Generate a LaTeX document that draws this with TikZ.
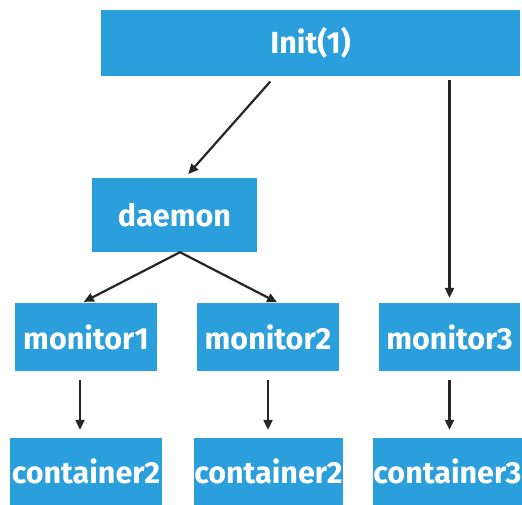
\documentclass[tikz,border=0pt]{standalone}
\usepackage{fontspec}
\setmainfont{Fira Sans}
\usetikzlibrary{arrows.meta}
\definecolor{boxblue}{HTML}{2B9FDB}
\begin{document}
\begin{tikzpicture}[x=1pt,y=-1pt,
  box/.style={fill=boxblue, draw=none, inner sep=0pt, text=white,
    font=\fontsize{30.5}{33}\selectfont\bfseries},
  link/.style={line width=2.2pt, draw=black!85,
    -{Triangle[length=10pt,width=9pt]}}]
  \useasboundingbox[fill=white] (0,0) rectangle (522,505);
  % top level
  \node[box, minimum width=419pt, minimum height=66pt] (init) at (310.5,43) {Init(1)};
  \node[box, minimum width=165pt, minimum height=74pt] (daemon) at (174.5,215) {daemon};
  % monitors
  \node[box, minimum width=142pt, minimum height=68pt] (mon1) at (86,337) {monitor1};
  \node[box, minimum width=142pt, minimum height=68pt] (mon2) at (268,337) {monitor2};
  \node[box, minimum width=141pt, minimum height=68pt] (mon3) at (449.5,337) {monitor3};
  % containers
  \node[box, minimum width=152pt, minimum height=67pt] (con1) at (86,471.5) {container2};
  \node[box, minimum width=149pt, minimum height=67pt] (con2) at (268.5,471.5) {container2};
  \node[box, minimum width=149pt, minimum height=67pt] (con3) at (447.5,471.5) {container3};
  % connectors
  \draw[link, shorten <=7pt, shorten >=5pt]
    ([xshift=-35.5pt]init.south) -- ([xshift=10.5pt]daemon.north);
  \draw[link, shorten <=4pt, shorten >=5pt]
    (init.south -| mon3.north) -- (mon3.north);
  \draw[link, shorten >=2pt]
    ([xshift=5.5pt]daemon.south) -- ([xshift=-4pt]mon1.north);
  \draw[link, shorten >=1pt]
    ([xshift=5.5pt]daemon.south) -- ([xshift=10pt]mon2.north);
  \draw[link, shorten <=9pt, shorten >=8pt]
    ([xshift=-6pt]mon1.south) -- ([xshift=-6pt]mon1.south |- con1.north);
  \draw[link, shorten <=9pt, shorten >=8pt]
    (mon2.south) -- (mon2.south |- con2.north);
  \draw[link, shorten <=9pt, shorten >=8pt]
    (mon3.south) -- (mon3.south |- con3.north);
\end{tikzpicture}
\end{document}
